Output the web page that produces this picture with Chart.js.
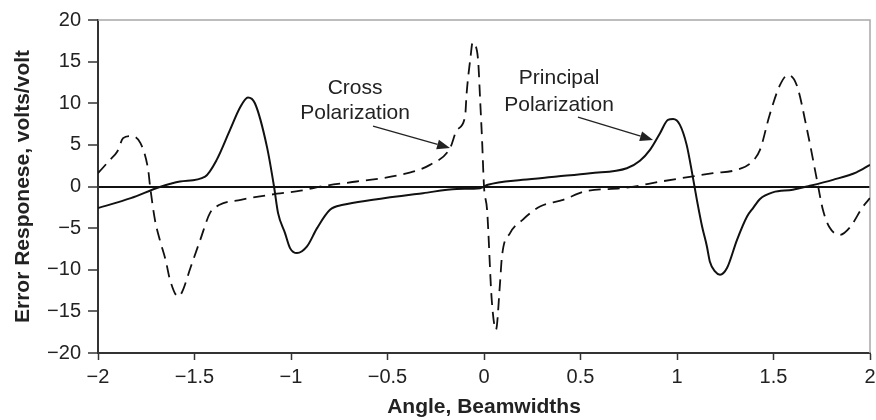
<!DOCTYPE html>
<html><head><meta charset="utf-8">
<script src="https://cdn.jsdelivr.net/npm/chart.js@4/dist/chart.umd.min.js"></script>
<style>html,body{margin:0;padding:0;background:#fff}#wrap{width:876px;height:420px;position:relative}</style>
</head><body><div id="wrap"><canvas id="c" width="876" height="420"></canvas></div>
<script>
const principalX=[-2,-1.83,-1.68,-1.575,-1.445,-1.385,-1.316,-1.264,-1.223,-1.187,-1.124,-1.088,-1.067,-1.031,-1.005,-0.969,-0.917,-0.865,-0.798,-0.73,-0.575,-0.316,-0.14,-0.02,0.02,0.2,0.378,0.55,0.74,0.808,0.86,0.912,0.953,0.98,1.015,1.05,1.08,1.103,1.13,1.155,1.17,1.197,1.223,1.259,1.311,1.363,1.394,1.43,1.497,1.6,1.674,1.808,1.93,2];
const principalY=[-2.6,-1.4,-0.06,0.6,1.2,3.2,6.8,9.5,10.7,10.0,4.7,0,-3.2,-5.6,-7.4,-8.0,-7.2,-5.0,-2.8,-2.2,-1.6,-0.8,-0.3,-0.2,0.2,0.8,1.2,1.6,2.2,3.1,4.4,6.4,8.0,8.1,7.4,5.0,1.4,-1.6,-4.8,-7.2,-9.0,-10.2,-10.6,-9.8,-6.4,-3.6,-2.6,-1.5,-0.7,-0.4,0,0.8,1.7,2.6];
const crossX=[-2,-1.938,-1.9,-1.87,-1.834,-1.78,-1.74,-1.73,-1.705,-1.68,-1.65,-1.627,-1.585,-1.565,-1.52,-1.47,-1.42,-1.37,-1.26,-1.11,-0.95,-0.83,-0.66,-0.435,-0.28,-0.176,-0.14,-0.098,-0.09,-0.07,-0.059,-0.045,-0.03,-0.02,-0.01,0,0.016,0.04,0.062,0.083,0.093,0.135,0.2,0.29,0.41,0.53,0.72,0.93,1.187,1.31,1.38,1.43,1.48,1.534,1.575,1.62,1.674,1.725,1.756,1.79,1.845,1.896,1.964,2];
const crossY=[1.6,3.2,4.2,5.8,6.06,5.2,2.0,0,-4.0,-6.4,-8.8,-11.2,-13.2,-12.7,-9.7,-6.4,-3.2,-2.2,-1.6,-1.0,-0.5,0.06,0.6,1.4,2.6,4.6,6.8,8.4,11.2,15.5,17.3,17.0,15.0,10.4,5.6,0,-2.8,-13.6,-17.2,-11.6,-8.4,-5.6,-4.0,-2.4,-1.6,-0.54,-0.2,0.65,1.6,2.0,2.8,4.4,8.6,12.2,13.4,12.2,6.8,0.8,-2.8,-4.9,-5.8,-4.9,-2.4,-1.4];
const xTicks=[-2,-1.5,-1,-0.5,0,0.5,1,1.5,2];
const yTicks=[-20,-15,-10,-5,0,5,10,15,20];
const xTitle='Angle, Beamwidths';
const yTitle='Error Responese, volts/volt';
// annotation labels (data coordinates)
const labels=[
  {lines:['Cross','Polarization'], x:-0.668, y:[11.8,8.8], from:[-0.575,7.26], to:[-0.176,4.62]},
  {lines:['Principal','Polarization'], x:0.389, y:[13.0,9.8], from:[0.487,8.34], to:[0.876,5.58]}
];

const FONT="'Liberation Sans', Arial, sans-serif";
const fmt=v=>{const s=String(Math.abs(v));return v<0?'\u2212'+s:s;};
const toPts=(xs,ys)=>xs.map((x,i)=>({x:x,y:ys[i]}));

const framePlugin={
  id:'frame',
  beforeDatasetsDraw(chart){
    const {ctx,chartArea:a}=chart;
    ctx.save();
    ctx.strokeStyle='#a8a8a8';ctx.lineWidth=1.5;
    ctx.beginPath();ctx.moveTo(a.left,a.top);ctx.lineTo(a.right,a.top);ctx.lineTo(a.right,a.bottom);ctx.stroke();
    ctx.restore();
  },
  afterDatasetsDraw(chart){
    const {ctx,scales:{x,y}}=chart;
    ctx.save();
    ctx.fillStyle='#222';ctx.strokeStyle='#222';
    ctx.font='21px '+FONT;ctx.textAlign='center';ctx.textBaseline='middle';
    labels.forEach(l=>{
      l.lines.forEach((t,i)=>ctx.fillText(t,x.getPixelForValue(l.x),y.getPixelForValue(l.y[i])));
      const x1=x.getPixelForValue(l.from[0]),y1=y.getPixelForValue(l.from[1]);
      const x2=x.getPixelForValue(l.to[0]),y2=y.getPixelForValue(l.to[1]);
      const ang=Math.atan2(y2-y1,x2-x1),hl=13,hw=5;
      const bx=x2-hl*Math.cos(ang),by=y2-hl*Math.sin(ang);
      ctx.lineWidth=1.3;ctx.beginPath();ctx.moveTo(x1,y1);ctx.lineTo(bx,by);ctx.stroke();
      ctx.beginPath();ctx.moveTo(x2,y2);
      ctx.lineTo(bx+hw*Math.sin(ang),by-hw*Math.cos(ang));
      ctx.lineTo(bx-hw*Math.sin(ang),by+hw*Math.cos(ang));
      ctx.closePath();ctx.fill();
    });
    ctx.restore();
  }
};

new Chart(document.getElementById('c'),{
  type:'line',
  data:{datasets:[
    {label:'Principal Polarization',data:toPts(principalX,principalY),borderColor:'#111',borderWidth:2,pointRadius:0,cubicInterpolationMode:'monotone',fill:false},
    {label:'Cross Polarization',data:toPts(crossX,crossY),borderColor:'#111',borderWidth:1.8,borderDash:[12,7],pointRadius:0,cubicInterpolationMode:'monotone',fill:false}
  ]},
  options:{
    responsive:false,animation:false,devicePixelRatio:1,
    layout:{padding:{top:20,right:0,left:0,bottom:0}},
    plugins:{legend:{display:false},tooltip:{enabled:false}},
    scales:{
      x:{type:'linear',min:-2,max:2,
        afterBuildTicks:s=>{s.ticks=xTicks.map(v=>({value:v}));},
        afterFit:s=>{s.height=67;s.paddingRight=6;s.paddingLeft=0;},
        ticks:{callback:fmt,font:{family:FONT,size:20},color:'#222',padding:5,maxRotation:0,autoSkip:false},
        grid:{drawOnChartArea:false,tickLength:7,tickColor:'#333',tickWidth:1.5},
        border:{color:'#333',width:2},
        title:{display:true,text:xTitle,font:{family:FONT,size:21,weight:'bold'},color:'#222',padding:{top:0,bottom:0}}
      },
      y:{type:'linear',min:-20,max:20,
        afterBuildTicks:s=>{s.ticks=yTicks.map(v=>({value:v}));},
        afterFit:s=>{s.width=98;},
        ticks:{callback:fmt,font:{family:FONT,size:20},color:'#222',padding:7,autoSkip:false},
        grid:{drawOnChartArea:true,tickLength:10,tickColor:'#333',tickWidth:1.5,
          color:c=>(c.tick&&c.tick.value===0)?'#111':'rgba(0,0,0,0)',
          lineWidth:c=>(c.tick&&c.tick.value===0)?2:0},
        border:{color:'#333',width:2},
        title:{display:true,text:yTitle,font:{family:FONT,size:21,weight:'bold'},color:'#222',padding:{top:11,bottom:0}}
      }
    }
  },
  plugins:[framePlugin]
});
</script></body></html>
